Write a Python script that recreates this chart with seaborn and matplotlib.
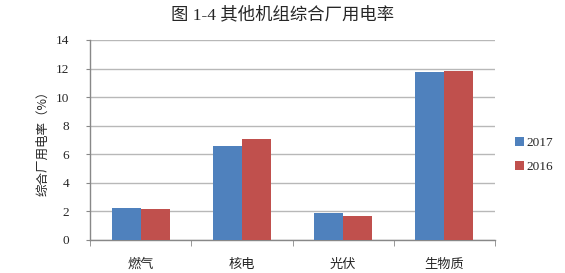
import matplotlib
matplotlib.use("Agg")
import matplotlib.pyplot as plt
import seaborn as sns
import pandas as pd
import numpy as np

categories = ["燃气", "核电", "光伏", "生物质"]
years = ["2017", "2016"]
values_2017 = [2.22, 6.58, 1.91, 11.76]
values_2016 = [2.15, 7.07, 1.70, 11.83]
title = "图 1-4 其他机组综合厂用电率"
ylabel = "综合厂用电率（%）"
yticks = [0, 2, 4, 6, 8, 10, 12, 14]

df = pd.DataFrame({
    "cat": categories * 2,
    "year": [years[0]] * 4 + [years[1]] * 4,
    "val": values_2017 + values_2016,
})

sns.set_style("white")
plt.rcParams['font.family'] = ['Liberation Serif', 'Noto Sans CJK SC', 'DejaVu Sans']

fig = plt.figure(figsize=(5.65, 2.73), dpi=100)
ax = fig.add_axes([90/565, 33/273, 405/565, 200/273])

sns.barplot(data=df, x="cat", y="val", hue="year", hue_order=years,
            palette=["#4F81BD", "#C0504D"], width=0.575, saturation=1,
            ax=ax, zorder=3, linewidth=0)

ax.set_ylim(0, 14)
ax.set_xlim(-0.5, 3.5)
ax.set_yticks(yticks)
ax.set_yticklabels([str(t) for t in yticks], fontsize=9.5)
ax.yaxis.grid(True, color="#b8b8b8", linewidth=1.0, zorder=0)
ax.set_axisbelow(True)
for s in ["top", "right"]:
    ax.spines[s].set_visible(False)
for s in ["left", "bottom"]:
    ax.spines[s].set_color("#888888")
    ax.spines[s].set_linewidth(1.0)
ax.tick_params(axis="y", length=3, color="#888888", pad=12, direction="out", left=True)
ax.set_xticks([0, 1, 2, 3])
ax.set_xticklabels(categories, fontsize=9.5, family=['Noto Sans CJK SC'])
ax.tick_params(axis="x", length=0, pad=13)
ax.set_xticks([-0.5, 0.5, 1.5, 2.5, 3.5], minor=True)
ax.tick_params(axis="x", which="minor", length=4, color="#888888", direction="out", bottom=True)
ax.set_xlabel("")
ax.set_ylabel(ylabel, fontsize=9, family=['Noto Sans CJK SC', 'DejaVu Sans'], labelpad=5)

fig.suptitle(title, y=1 - 15/273, va="center", fontsize=12.5,
             family=['Liberation Serif', 'Noto Sans CJK SC'])

h, l = ax.get_legend_handles_labels()
ax.legend(h, l, loc="center left", bbox_to_anchor=(1.02, 0.425), frameon=False,
          fontsize=9.5, handlelength=0.7, handleheight=0.7, handletextpad=0.2,
          labelspacing=0.85)

fig.savefig("out.png", dpi=100)
